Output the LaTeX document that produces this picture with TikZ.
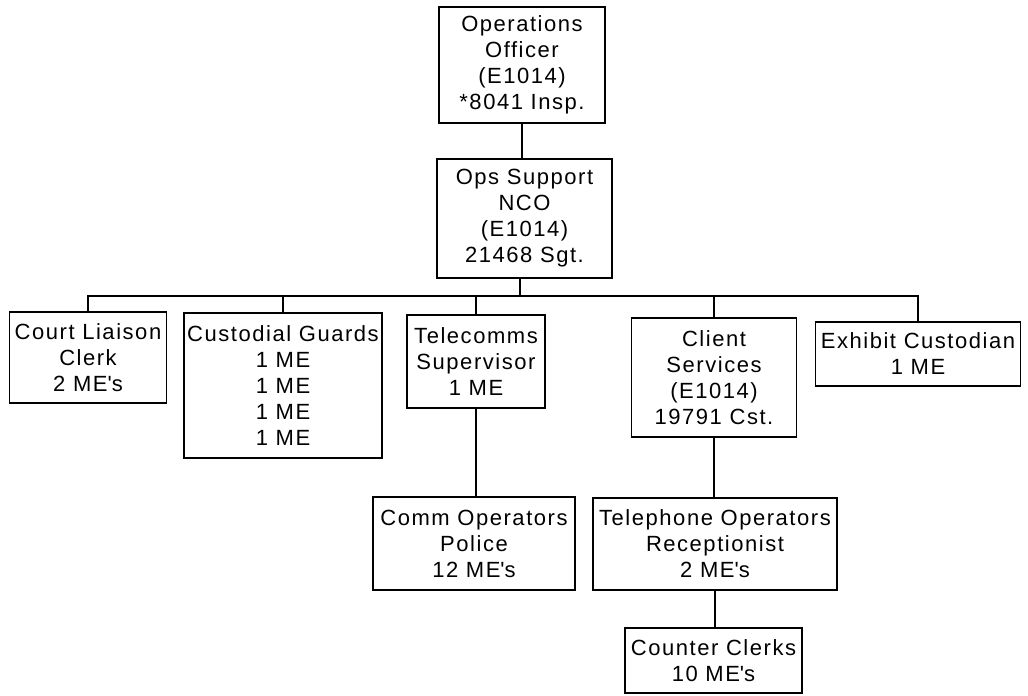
\documentclass[tikz,border=0pt]{standalone}
\usepackage{fontspec}
\setmainfont[LetterSpace=7]{Liberation Sans}
\newcommand{\ap}{\textquotesingle}
\begin{document}
\begin{tikzpicture}[x=1pt,y=-1pt,
  box/.style={draw,line width=1.6pt,inner sep=0pt,align=center,
    font=\fontsize{22}{26}\selectfont},
  link/.style={line width=1.8pt}]
\useasboundingbox (0,0) rectangle (1028,696);
\node[box,minimum width=166,minimum height=116] (ops) at (522,65) {Operations\\Officer\\(E1014)\\*8041 Insp.};
\node[box,minimum width=175,minimum height=119] (nco) at (524.5,218.5) {Ops Support\\NCO\\(E1014)\\21468 Sgt.};
\node[box,minimum width=157,minimum height=91] (court) at (88,357.5) {Court Liaison\\Clerk\\2 ME\ap s};
\node[box,minimum width=198,minimum height=145] (guards) at (283,385.5) {Custodial Guards\\1 ME\\1 ME\\1 ME\\1 ME};
\node[box,minimum width=138,minimum height=93] (tele) at (476,361.5) {Telecomms\\Supervisor\\1 ME};
\node[box,minimum width=165,minimum height=119] (client) at (714,377.5) {Client\\Services\\(E1014)\\19791 Cst.};
\node[box,minimum width=205,minimum height=64] (exhibit) at (918,354) {Exhibit Custodian\\1 ME};
\node[box,minimum width=202,minimum height=93] (comm) at (474,543.5) {Comm Operators\\Police\\12 ME\ap s};
\node[box,minimum width=244,minimum height=92] (telop) at (715,544) {Telephone Operators\\Receptionist\\2 ME\ap s};
\node[box,minimum width=177,minimum height=65] (counter) at (713.5,660.5) {Counter Clerks\\10 ME\ap s};
\coordinate (bus) at (520,296);
\draw[link] (ops.south) -- (ops.south |- nco.north);
\draw[link] (bus |- nco.south) -- (bus);
\draw[link] (court.north) |- (bus);
\draw[link] (guards.north) |- (bus);
\draw[link] (tele.north) |- (bus);
\draw[link] (client.north) |- (bus);
\draw[link] (exhibit.north) |- (bus);
\draw[link] (tele.south) -- (tele.south |- comm.north);
\draw[link] (client.south) -- (client.south |- telop.north);
\draw[link] (telop.south) -- (telop.south |- counter.north);
\end{tikzpicture}
\end{document}
